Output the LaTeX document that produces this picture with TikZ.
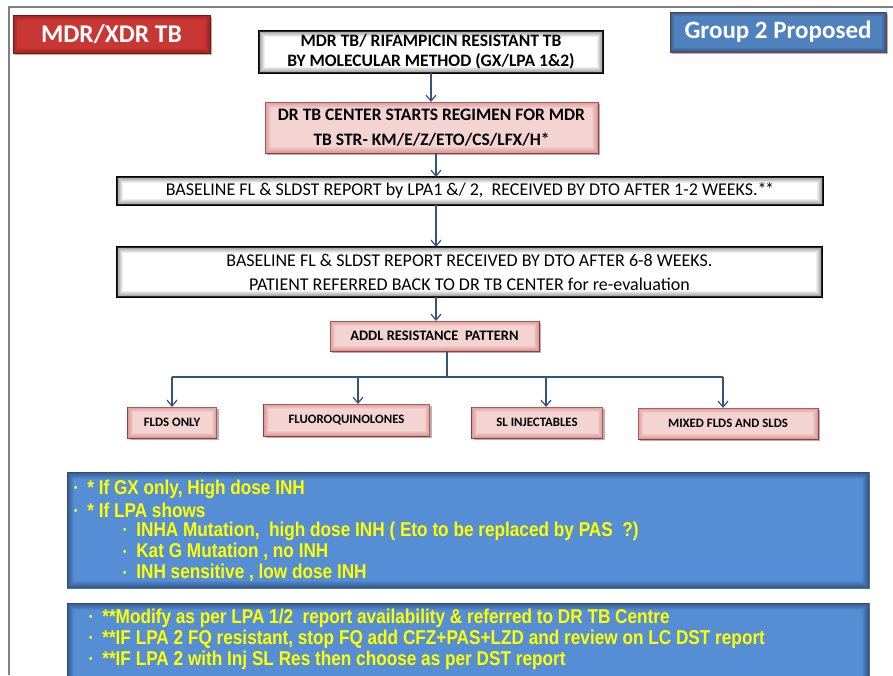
\documentclass[tikz,border=0pt]{standalone}
\usepackage{fontspec}
\setmainfont{Carlito}
\newfontfamily\narrowsans[FakeStretch=0.86]{Liberation Sans}
\usetikzlibrary{arrows.meta,shadows,calc}

\definecolor{framegray}{RGB}{128,128,128}
\definecolor{linkblue}{RGB}{52,84,128}
\definecolor{titlered}{RGB}{200,55,52}
\definecolor{titledeep}{RGB}{130,22,22}
\definecolor{grpblue}{RGB}{79,129,189}
\definecolor{grpedge}{RGB}{140,60,60}
\definecolor{grpdeep}{RGB}{35,60,100}
\definecolor{pinkfill}{RGB}{244,212,211}
\definecolor{pinkdeep}{RGB}{200,110,108}
\definecolor{pinkedge}{RGB}{150,60,58}
\definecolor{notefill}{RGB}{85,142,213}
\definecolor{notedeep}{RGB}{25,48,88}
\definecolor{notetext}{RGB}{255,255,0}

% soft darkening along the inside of a box edge
\newcommand\edgeglow[3]{%
  \foreach \k in {1,...,#3}{%
    \pgfmathsetmacro\op{0.55*(1-(\k-1)/#3)}%
    \draw[#2, line width=1pt, opacity=\op]
      ($(#1.south west)+({\k-0.5},{0.5-\k})$) rectangle ($(#1.north east)+({0.5-\k},{\k-0.5})$);
  }%
}
\newcommand\ybul{\raisebox{2.5pt}{\fontsize{11}{11}\selectfont\textbullet}}

\tikzset{
  every node/.style={inner sep=0pt, outer sep=0pt},
  dshadow/.style={drop shadow={opacity=0.3, shadow xshift=2pt, shadow yshift=-2pt, fill=black}},
  titlebox/.style={rectangle, fill=titlered, draw=titledeep, line width=0.6pt, dshadow,
    text=white, font={\fontsize{25.5}{28}\selectfont\bfseries}},
  grpbox/.style={rectangle, fill=grpblue, draw=grpedge, line width=0.8pt, dshadow,
    text=white, font={\fontsize{25}{28}\selectfont\bfseries}},
  whitebox/.style={rectangle, fill=white, draw=black, line width=1.2pt, align=center},
  pinkbox/.style={rectangle, fill=pinkfill, draw=pinkedge, line width=0.8pt, dshadow, align=center},
  notebox/.style={rectangle, fill=notefill, draw=notedeep!70, line width=0.6pt},
  noteline/.style={anchor=west, text=notetext, font={\narrowsans\bfseries\fontsize{20}{22}\selectfont}},
  arr/.style={draw=linkblue, line width=1.2pt, -{Straight Barb[length=6pt,width=10pt]}},
  link/.style={draw=linkblue, line width=1.2pt},
}

\begin{document}
\begin{tikzpicture}[x=1pt, y=-1pt]
\useasboundingbox (0,0) rectangle (893,675);
\fill[white] (0,0) rectangle (893,675);

% page frame
\draw[framegray, line width=1.2pt] (9,675) -- (9,7) -- (893,7);

% corner labels
\node[titlebox, minimum width=197, minimum height=38] (title) at (111.5,34) {MDR/XDR TB};
\edgeglow{title}{titledeep}{5}
\node[grpbox, minimum width=216, minimum height=40] (grp) at (778,32) {Group 2 Proposed};
\edgeglow{grp}{grpdeep}{4}

% main chain
\node[whitebox, minimum width=344, minimum height=42,
      font={\fontsize{17.5}{20}\selectfont\bfseries}] (box1) at (431,52)
  {MDR TB/ RIFAMPICIN RESISTANT TB\\BY MOLECULAR METHOD (GX/LPA 1\&2)};
\edgeglow{box1}{black!70}{6}

\node[pinkbox, minimum width=333, minimum height=51,
      font={\fontsize{17.5}{25}\selectfont\bfseries}] (box2) at (431.5,127.5)
  {DR TB CENTER STARTS REGIMEN FOR MDR\\TB STR- KM/E/Z/ETO/CS/LFX/H*};
\edgeglow{box2}{pinkdeep}{6}

\node[whitebox, minimum width=706, minimum height=28,
      font={\fontsize{18}{20}\selectfont}] (box3) at (470,191)
  {BASELINE FL \& SLDST REPORT by LPA1 \&/ 2,\ \ RECEIVED BY DTO AFTER 1-2 WEEKS.*\kern-1.5pt*};
\edgeglow{box3}{black!70}{6}

\node[whitebox, minimum width=705, minimum height=50,
      font={\fontsize{18}{24}\selectfont}] (box4) at (469.5,272)
  {BASELINE FL \& SLDST REPORT RECEIVED\ BY DTO AFTER 6-8 WEEKS.\\PATIENT REFERRED BACK TO DR TB CENTER for re-evaluation};
\edgeglow{box4}{black!70}{6}

\node[pinkbox, minimum width=209, minimum height=30,
      font={\fontsize{14.5}{16}\selectfont\bfseries}] (addl) at (434.5,336) {ADDL RESISTANCE\ \ PATTERN};
\edgeglow{addl}{pinkdeep}{5}

% resistance categories
\tikzset{catfont/.style={font={\fontsize{12.8}{14}\selectfont\bfseries}}}
\node[pinkbox, catfont, minimum width=89, minimum height=31] (c1) at (172,422.5) {FLDS ONLY};
\node[pinkbox, catfont, minimum width=166, minimum height=32] (c2) at (346.5,420) {FLUOROQUINOLONES};
\node[pinkbox, catfont, minimum width=131, minimum height=31] (c3) at (537,422.5) {SL INJECTABLES};
\node[pinkbox, catfont, minimum width=180, minimum height=31] (c4) at (728,423.5) {MIXED FLDS AND SLDS};
\foreach \c in {c1,c2,c3,c4}{\edgeglow{\c}{pinkdeep}{5}}

% connectors
\coordinate (spine) at (436,0);
\draw[arr] (box1.south) -- (box1.south |- box2.north);
\draw[arr] (spine |- box2.south) -- (spine |- box3.north);
\draw[arr] (spine |- box3.south) -- (spine |- box4.north);
\draw[arr] (spine |- box4.south) -- (spine |- addl.north);

\coordinate (stem) at (447,377);
\coordinate (d1) at (172,377);
\coordinate (d2) at (358,377);
\coordinate (d3) at (546,377);
\coordinate (d4) at (723,377);
\draw[link] (stem |- addl.south) -- (stem);
\draw[link] (d1) -- (d4);
\draw[arr] (d1) -- (d1 |- c1.north);
\draw[arr] (d2) -- (d2 |- c2.north);
\draw[arr] (d3) -- (d3 |- c3.north);
\draw[arr] (d4) -- (d4 |- c4.north);

% notes
\node[notebox, minimum width=802, minimum height=116] (note1) at (468,530) {};
\edgeglow{note1}{notedeep}{7}
\node[noteline] (g1) at (74,489) {\ybul\hspace{10pt}* If GX only, High dose INH};
\node[noteline] (g2) at (74,510) {\ybul\hspace{10pt}* If LPA shows};
\node[noteline] (g3) at (123,531) {\ybul\hspace{10pt}INHA Mutation,\ \ high dose INH ( Eto to be replaced by PAS\ \ ?)};
\node[noteline] (g4) at (123,552) {\ybul\hspace{10pt}Kat G Mutation , no INH};
\node[noteline] (g5) at (123,573) {\ybul\hspace{10pt}INH sensitive , low dose INH};

\node[notebox, minimum width=802, minimum height=87] (note2) at (468,646.5) {};
\edgeglow{note2}{notedeep}{7}
\node[noteline] (n1) at (89,618) {\ybul\hspace{10pt}**Modify as per LPA 1/2\ \ report availability \& referred to DR TB Centre};
\node[noteline] (n2) at (89,639) {\ybul\hspace{10pt}**IF LPA 2 FQ resistant, stop FQ add CFZ+PAS+LZD and review on LC DST report};
\node[noteline] (n3) at (89,660) {\ybul\hspace{10pt}**IF LPA 2 with Inj SL Res then choose as per DST report};
\end{tikzpicture}
\end{document}
